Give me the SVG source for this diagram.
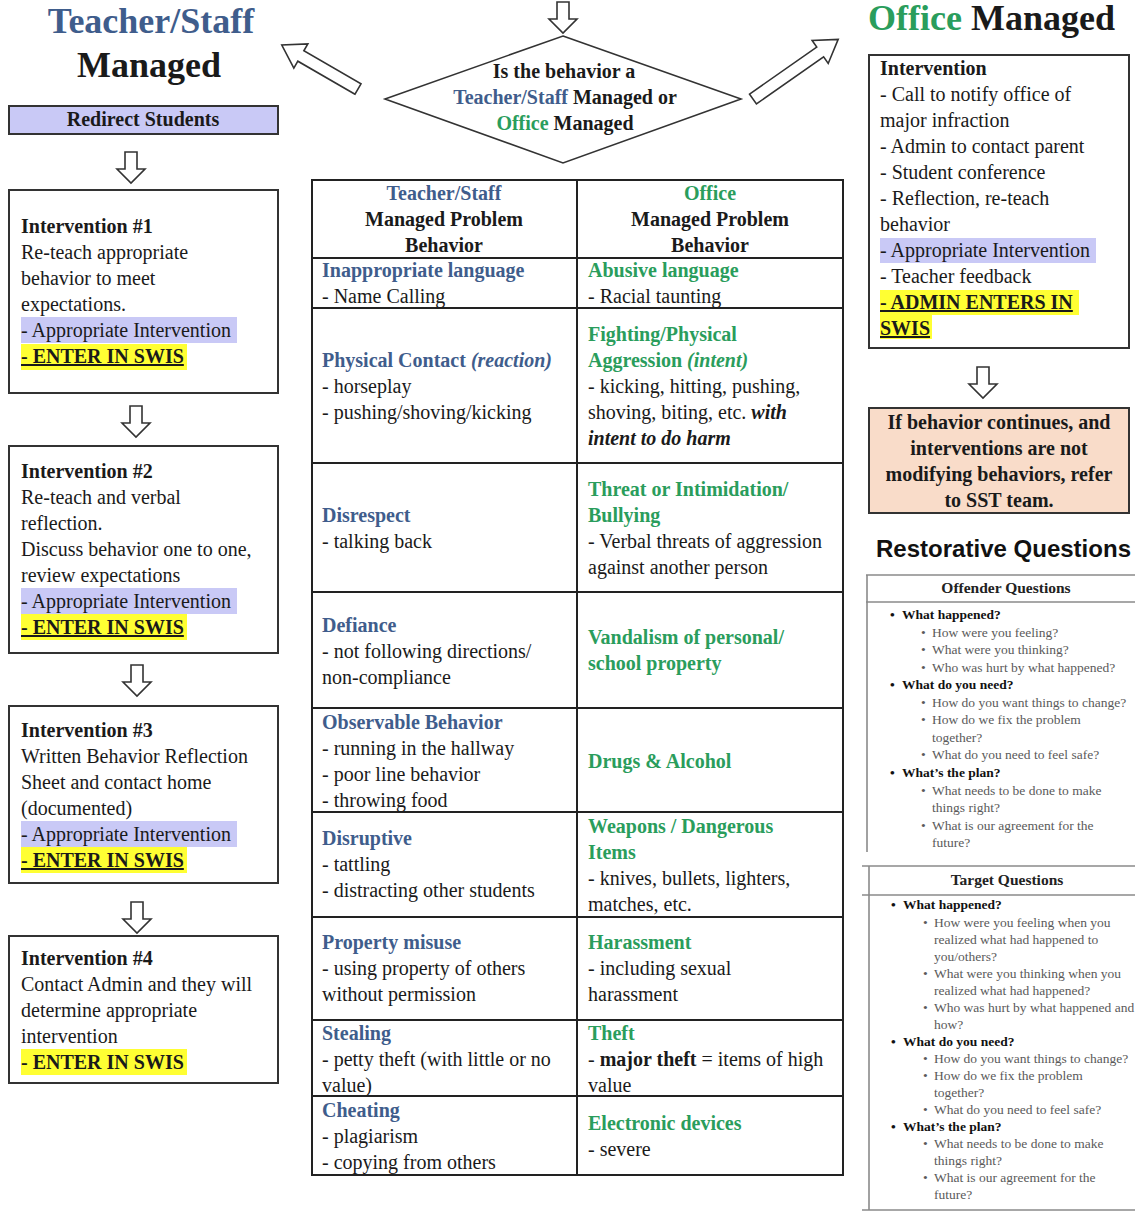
<svg xmlns="http://www.w3.org/2000/svg" xmlns:xlink="http://www.w3.org/1999/xlink" width="1135" height="1213" viewBox="0 0 1135 1213">
<style>
text{font-family:"Liberation Serif","Times New Roman",serif;font-size:20px;fill:#1a1a1a}
.b{font-weight:bold}
.i{font-style:italic}
.blue{fill:#3f5d8c}
.green{fill:#2a9d5c}
.mid{text-anchor:middle}
.title{font-size:36px;font-weight:bold}
.box{fill:#fff;stroke:#333;stroke-width:2}
.arr{fill:#fff;stroke:#333;stroke-width:1.6;stroke-linejoin:miter}
.lav{fill:#c9c9f6}
.yel{fill:#ffff33}
.u{text-decoration:underline}
.tl{stroke:#222;stroke-width:2;fill:none}
.ql{stroke:#8a8a8a;stroke-width:1.6;fill:none}
.qh{font-size:15.5px;font-weight:bold;fill:#222}
.qb{font-size:13.5px;font-weight:bold;fill:#111}
.q{font-size:13.5px;fill:#5a5a5a}
.rq{font-family:"Liberation Sans",Arial,sans-serif;font-size:24px;font-weight:bold;fill:#111}
</style>
<defs>
<path id="dn" d="M-6,0 H6 V17 H14 L0,31 L-14,17 H-6 Z"/>
</defs>
<rect width="1135" height="1213" fill="#fff"/>

<g id="connectors">
<use xlink:href="#dn" class="arr" transform="translate(563,2)"/>
<path class="arr" d="M0,-6 H66 V-14 L88,0 L66,14 V6 H0 Z" transform="translate(358,89) rotate(210)"/>
<path class="arr" d="M0,-6 H82 V-14 L104,0 L82,14 V6 H0 Z" transform="translate(753,99) rotate(-35)"/>
<use xlink:href="#dn" class="arr" transform="translate(131,152)"/>
<use xlink:href="#dn" class="arr" transform="translate(136,406)"/>
<use xlink:href="#dn" class="arr" transform="translate(137,665)"/>
<use xlink:href="#dn" class="arr" transform="translate(137,902)"/>
<use xlink:href="#dn" class="arr" transform="translate(983,367)"/>
</g>

<g id="title-teacher">
<text class="title blue mid" x="151" y="33">Teacher/Staff</text>
<text class="title mid" x="149" y="77">Managed</text>
</g>

<g id="redirect">
<rect x="9" y="106" width="269" height="28" fill="#c9c9f6" stroke="#333" stroke-width="2"/>
<text class="b mid" x="143" y="126" font-size="21">Redirect Students</text>
</g>

<g id="int1">
<rect class="box" x="9" y="190" width="269" height="203"/>
<rect class="lav" x="21" y="317" width="216" height="26"/>
<rect class="yel" x="21" y="344" width="166" height="26"/>
<text class="b" x="21" y="233">Intervention #1</text>
<text x="21" y="259">Re-teach appropriate</text>
<text x="21" y="285">behavior to meet</text>
<text x="21" y="311">expectations.</text>
<text x="21" y="337">- Appropriate Intervention</text>
<text class="b u" x="21" y="363">- ENTER IN SWIS</text>
</g>

<g id="int2">
<rect class="box" x="9" y="446" width="269" height="207"/>
<rect class="lav" x="21" y="588" width="216" height="26"/>
<rect class="yel" x="21" y="614" width="166" height="26"/>
<text class="b" x="21" y="478">Intervention #2</text>
<text x="21" y="504">Re-teach and verbal</text>
<text x="21" y="530">reflection.</text>
<text x="21" y="556">Discuss behavior one to one,</text>
<text x="21" y="582">review expectations</text>
<text x="21" y="608">- Appropriate Intervention</text>
<text class="b u" x="21" y="634">- ENTER IN SWIS</text>
</g>

<g id="int3">
<rect class="box" x="9" y="706" width="269" height="177"/>
<rect class="lav" x="21" y="821" width="216" height="26"/>
<rect class="yel" x="21" y="847" width="166" height="26"/>
<text class="b" x="21" y="737">Intervention #3</text>
<text x="21" y="763">Written Behavior Reflection</text>
<text x="21" y="789">Sheet and contact home</text>
<text x="21" y="815">(documented)</text>
<text x="21" y="841">- Appropriate Intervention</text>
<text class="b u" x="21" y="867">- ENTER IN SWIS</text>
</g>

<g id="int4">
<rect class="box" x="9" y="936" width="269" height="147"/>
<rect class="yel" x="21" y="1049" width="166" height="26"/>
<text class="b" x="21" y="965">Intervention #4</text>
<text x="21" y="991">Contact Admin and they will</text>
<text x="21" y="1017">determine appropriate</text>
<text x="21" y="1043">intervention</text>
<text class="b" x="21" y="1069">- ENTER IN SWIS</text>
</g>

<g id="decision">
<polygon points="563,36 741,99 563,163 385,99" fill="#fff" stroke="#333" stroke-width="1.6"/>
<text class="b mid" x="564" y="78">Is the behavior a</text>
<text class="b mid" x="565" y="104"><tspan class="blue">Teacher/Staff</tspan> Managed or</text>
<text class="b mid" x="565" y="130"><tspan class="green">Office</tspan> Managed</text>
</g>

<g id="behavior-table">
<rect class="tl" x="312" y="180" width="531" height="995"/>
<path class="tl" d="M577,180 V1175 M312,258 H843 M312,308 H843 M312,463 H843 M312,592 H843 M312,708 H843 M312,812 H843 M312,917 H843 M312,1020 H843 M312,1096 H843"/>
<text class="b blue mid" x="444" y="200">Teacher/Staff</text>
<text class="b mid" x="444" y="226">Managed Problem</text>
<text class="b mid" x="444" y="252">Behavior</text>
<text class="b green mid" x="710" y="200">Office</text>
<text class="b mid" x="710" y="226">Managed Problem</text>
<text class="b mid" x="710" y="252">Behavior</text>

<text class="b blue" x="322" y="277">Inappropriate language</text>
<text x="322" y="303">- Name Calling</text>
<text class="b green" x="588" y="277">Abusive language</text>
<text x="588" y="303">- Racial taunting</text>

<text class="b blue" x="322" y="367">Physical Contact <tspan class="i">(reaction)</tspan></text>
<text x="322" y="393">- horseplay</text>
<text x="322" y="419">- pushing/shoving/kicking</text>
<text class="b green" x="588" y="341">Fighting/Physical</text>
<text class="b green" x="588" y="367">Aggression <tspan class="i">(intent)</tspan></text>
<text x="588" y="393">- kicking, hitting, pushing,</text>
<text x="588" y="419">shoving, biting, etc. <tspan class="b i">with</tspan></text>
<text class="b i" x="588" y="445">intent to do harm</text>

<text class="b blue" x="322" y="522">Disrespect</text>
<text x="322" y="548">- talking back</text>
<text class="b green" x="588" y="496">Threat or Intimidation/</text>
<text class="b green" x="588" y="522">Bullying</text>
<text x="588" y="548">- Verbal threats of aggression</text>
<text x="588" y="574">against another person</text>

<text class="b blue" x="322" y="632">Defiance</text>
<text x="322" y="658">- not following directions/</text>
<text x="322" y="684">non-compliance</text>
<text class="b green" x="588" y="644">Vandalism of personal/</text>
<text class="b green" x="588" y="670">school property</text>

<text class="b blue" x="322" y="729">Observable Behavior</text>
<text x="322" y="755">- running in the hallway</text>
<text x="322" y="781">- poor line behavior</text>
<text x="322" y="807">- throwing food</text>
<text class="b green" x="588" y="768">Drugs &amp; Alcohol</text>

<text class="b blue" x="322" y="845">Disruptive</text>
<text x="322" y="871">- tattling</text>
<text x="322" y="897">- distracting other students</text>
<text class="b green" x="588" y="833">Weapons / Dangerous</text>
<text class="b green" x="588" y="859">Items</text>
<text x="588" y="885">- knives, bullets, lighters,</text>
<text x="588" y="911">matches, etc.</text>

<text class="b blue" x="322" y="949">Property misuse</text>
<text x="322" y="975">- using property of others</text>
<text x="322" y="1001">without permission</text>
<text class="b green" x="588" y="949">Harassment</text>
<text x="588" y="975">- including sexual</text>
<text x="588" y="1001">harassment</text>

<text class="b blue" x="322" y="1040">Stealing</text>
<text x="322" y="1066">- petty theft (with little or no</text>
<text x="322" y="1092">value)</text>
<text class="b green" x="588" y="1040">Theft</text>
<text x="588" y="1066">- <tspan class="b">major theft</tspan> = items of high</text>
<text x="588" y="1092">value</text>

<text class="b blue" x="322" y="1117">Cheating</text>
<text x="322" y="1143">- plagiarism</text>
<text x="322" y="1169">- copying from others</text>
<text class="b green" x="588" y="1130">Electronic devices</text>
<text x="588" y="1156">- severe</text>
</g>

<g id="title-office">
<text class="title" x="868" y="30"><tspan class="green">Office</tspan> Managed</text>
</g>

<g id="office-intervention">
<rect class="box" x="869" y="55" width="260" height="293"/>
<rect class="lav" x="880" y="238" width="216" height="25"/>
<rect class="yel" x="880" y="290" width="199" height="25"/>
<rect class="yel" x="880" y="315" width="52" height="24"/>
<text class="b" x="880" y="75">Intervention</text>
<text x="880" y="101">- Call to notify office of</text>
<text x="880" y="127">major infraction</text>
<text x="880" y="153">- Admin to contact parent</text>
<text x="880" y="179">- Student conference</text>
<text x="880" y="205">- Reflection, re-teach</text>
<text x="880" y="231">behavior</text>
<text x="880" y="257">- Appropriate Intervention</text>
<text x="880" y="283">- Teacher feedback</text>
<text class="b u" x="880" y="309">- ADMIN ENTERS IN</text>
<text class="b u" x="880" y="335">SWIS</text>
</g>

<g id="sst">
<rect x="869" y="408" width="260" height="105" fill="#f9dcc9" stroke="#333" stroke-width="2"/>
<text class="b mid" x="999" y="429">If behavior continues, and</text>
<text class="b mid" x="999" y="455">interventions are not</text>
<text class="b mid" x="999" y="481">modifying behaviors, refer</text>
<text class="b mid" x="999" y="507">to SST team.</text>
</g>

<g id="restorative-title">
<text class="rq" x="876" y="557" textLength="255" lengthAdjust="spacingAndGlyphs">Restorative Questions</text>
</g>

<g id="offender-questions">
<path class="ql" d="M866,575 H1135 M866,602 H1135 M867,575 V852"/>
<text class="qh mid" x="1006" y="593">Offender Questions</text>
<text class="qb" x="890" y="619">•</text><text class="qb" x="902" y="619">What happened?</text>
<text class="q" x="921" y="637">•</text><text class="q" x="932" y="637">How were you feeling?</text>
<text class="q" x="921" y="654">•</text><text class="q" x="932" y="654">What were you thinking?</text>
<text class="q" x="921" y="672">•</text><text class="q" x="932" y="672">Who was hurt by what happened?</text>
<text class="qb" x="890" y="689">•</text><text class="qb" x="902" y="689">What do you need?</text>
<text class="q" x="921" y="707">•</text><text class="q" x="932" y="707">How do you want things to change?</text>
<text class="q" x="921" y="724">•</text><text class="q" x="932" y="724">How do we fix the problem</text>
<text class="q" x="932" y="742">together?</text>
<text class="q" x="921" y="759">•</text><text class="q" x="932" y="759">What do you need to feel safe?</text>
<text class="qb" x="890" y="777">•</text><text class="qb" x="902" y="777">What’s the plan?</text>
<text class="q" x="921" y="795">•</text><text class="q" x="932" y="795">What needs to be done to make</text>
<text class="q" x="932" y="812">things right?</text>
<text class="q" x="921" y="830">•</text><text class="q" x="932" y="830">What is our agreement for the</text>
<text class="q" x="932" y="847">future?</text>
</g>

<g id="target-questions">
<path class="ql" d="M862,866 H1135 M862,895 H1135 M862,1210 H1135 M869,866 V1210"/>
<text class="qh mid" x="1007" y="885">Target Questions</text>
<text class="qb" x="891" y="909">•</text><text class="qb" x="903" y="909">What happened?</text>
<text class="q" x="923" y="927">•</text><text class="q" x="934" y="927">How were you feeling when you</text>
<text class="q" x="934" y="944">realized what had happened to</text>
<text class="q" x="934" y="961">you/others?</text>
<text class="q" x="923" y="978">•</text><text class="q" x="934" y="978">What were you thinking when you</text>
<text class="q" x="934" y="995">realized what had happened?</text>
<text class="q" x="923" y="1012">•</text><text class="q" x="934" y="1012">Who was hurt by what happened and</text>
<text class="q" x="934" y="1029">how?</text>
<text class="qb" x="891" y="1046">•</text><text class="qb" x="903" y="1046">What do you need?</text>
<text class="q" x="923" y="1063">•</text><text class="q" x="934" y="1063">How do you want things to change?</text>
<text class="q" x="923" y="1080">•</text><text class="q" x="934" y="1080">How do we fix the problem</text>
<text class="q" x="934" y="1097">together?</text>
<text class="q" x="923" y="1114">•</text><text class="q" x="934" y="1114">What do you need to feel safe?</text>
<text class="qb" x="891" y="1131">•</text><text class="qb" x="903" y="1131">What’s the plan?</text>
<text class="q" x="923" y="1148">•</text><text class="q" x="934" y="1148">What needs to be done to make</text>
<text class="q" x="934" y="1165">things right?</text>
<text class="q" x="923" y="1182">•</text><text class="q" x="934" y="1182">What is our agreement for the</text>
<text class="q" x="934" y="1199">future?</text>
</g>
</svg>
